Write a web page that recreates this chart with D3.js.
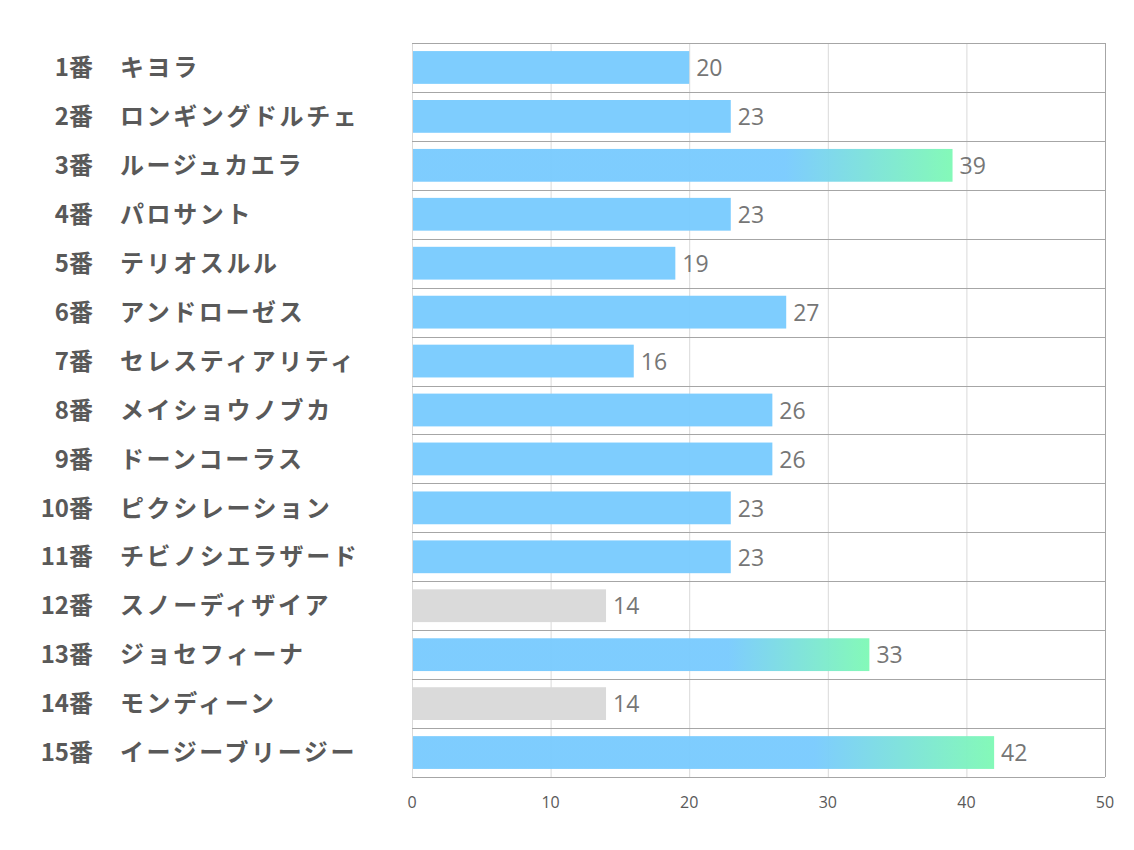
<!DOCTYPE html>
<html lang="ja">
<head>
<meta charset="UTF-8">
<title>出走馬</title>
<script src="https://d3js.org/d3.v7.js"></script>
<style>
  body { margin: 0; background: #fff; }
</style>
</head>
<body>
<div id="chart"></div>
<script>
const numbers = ["1番","2番","3番","4番","5番","6番","7番","8番","9番","10番","11番","12番","13番","14番","15番"];
const names = ["キヨラ","ロンギングドルチェ","ルージュカエラ","パロサント","テリオスルル","アンドローゼス","セレスティアリティ","メイショウノブカ","ドーンコーラス","ピクシレーション","チビノシエラザード","スノーディザイア","ジョセフィーナ","モンディーン","イージーブリージー"];
const values = [20, 23, 39, 23, 19, 27, 16, 26, 26, 23, 23, 14, 33, 14, 42];
const xTicks = [0, 10, 20, 30, 40, 50];

const W = 1134, H = 850;
const plotL = 412, plotR = 1105, plotT = 43, plotB = 777;

const svg = d3.select("#chart").append("svg")
  .attr("width", W).attr("height", H);

const defs = svg.append("defs");
const grad = defs.append("linearGradient").attr("id", "hot")
  .attr("x1", "0").attr("x2", "1").attr("y1", "0").attr("y2", "0");
grad.append("stop").attr("offset", "0.69").attr("stop-color", "#7acbfe");
grad.append("stop").attr("offset", "1").attr("stop-color", "#80f9b6");

const x = d3.scaleLinear().domain([0, 50]).range([plotL, plotR]);
const y = d3.scaleBand().domain(d3.range(values.length)).range([plotT, plotB]).paddingInner(0.33).paddingOuter(0.165);
const rowH = (plotB - plotT) / values.length;

// vertical grid
svg.append("g").selectAll("line").data(xTicks).enter().append("line")
  .attr("x1", d => x(d) + 0.5).attr("x2", d => x(d) + 0.5)
  .attr("y1", plotT).attr("y2", plotB)
  .attr("stroke", d => d === 50 ? "#a6a6a6" : "#d9d9d9").attr("stroke-width", 1);

// horizontal row lines
svg.append("g").selectAll("line").data(d3.range(values.length + 1)).enter().append("line")
  .attr("x1", plotL).attr("x2", plotR)
  .attr("y1", i => Math.round(plotT + i * rowH) + 0.5).attr("y2", i => Math.round(plotT + i * rowH) + 0.5)
  .attr("stroke", "#a6a6a6").attr("stroke-width", 1);

// bars
svg.append("g").selectAll("rect").data(values).enter().append("rect")
  .attr("x", x(0) + 1)
  .attr("y", (d, i) => y(i))
  .attr("width", d => x(d) - x(0) - 1)
  .attr("height", y.bandwidth())
  .attr("fill", d => d >= 30 ? "url(#hot)" : (d <= 14 ? "#d9d9d9" : "#7acbfe"))
  .attr("fill-opacity", 0.97);

// value labels
svg.append("g").selectAll("text").data(values).enter().append("text")
  .attr("x", d => x(d) + 7)
  .attr("y", (d, i) => y(i) + y.bandwidth() / 2)
  .attr("dy", "0.38em")
  .attr("font-family", "'Open Sans', 'Noto Sans', sans-serif")
  .attr("font-size", 23)
  .attr("fill", "#767676")
  .text(d => d);

// row labels
const lab = svg.append("g")
  .attr("font-family", "'Noto Sans CJK JP', 'Noto Sans', sans-serif")
  .attr("font-weight", "bold")
  .attr("font-size", 24)
  .attr("fill", "#595959");
lab.selectAll("text.num").data(numbers).enter().append("text")
  .attr("class", "num")
  .attr("x", 93).attr("text-anchor", "end")
  .attr("y", (d, i) => y(i) + y.bandwidth() / 2).attr("dy", "0.36em")
  .text(d => d);
lab.selectAll("text.nm").data(names).enter().append("text")
  .attr("class", "nm")
  .attr("x", 120)
  .attr("letter-spacing", 2.6)
  .attr("y", (d, i) => y(i) + y.bandwidth() / 2).attr("dy", "0.36em")
  .text(d => d);

// x axis tick labels
svg.append("g").selectAll("text").data(xTicks).enter().append("text")
  .attr("x", d => x(d)).attr("y", 808)
  .attr("text-anchor", "middle")
  .attr("font-family", "'Open Sans', sans-serif")
  .attr("font-size", 16)
  .attr("fill", "#595959")
  .text(d => d);
</script>
</body>
</html>
